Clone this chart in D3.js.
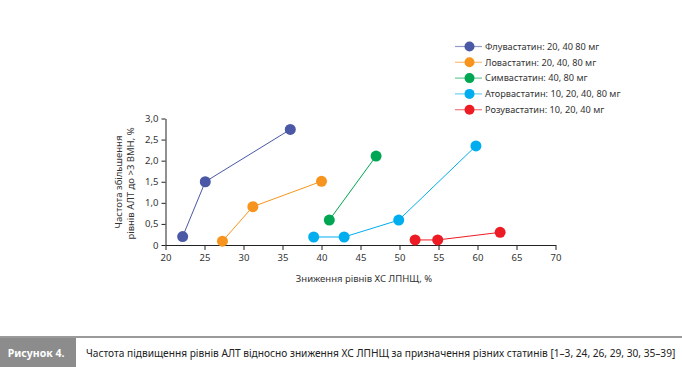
<!DOCTYPE html>
<html><head><meta charset="utf-8">
<script src="https://cdn.jsdelivr.net/npm/d3@7"></script>
<style>
body{margin:0;background:#fff;}
svg{display:block;font-family:"Noto Sans","Open Sans",sans-serif;}
</style></head><body>
<svg id="c" width="682" height="367"></svg>
<script>
const seriesNames = ["Флувастатин: 20, 40 80 мг","Ловастатин: 20, 40, 80 мг","Симвастатин: 40, 80 мг","Аторвастатин: 10, 20, 40, 80 мг","Розувастатин: 10, 20, 40 мг"];
const seriesColors = ["#4a58a6","#f7941d","#00a651","#00aeef","#ed1c24"];
const fluvaX = [22.2, 25.1, 36.0], fluvaY = [0.2, 1.5, 2.74];
const lovaX = [27.3, 31.2, 40.0], lovaY = [0.09, 0.91, 1.51];
const simvaX = [41.0, 47.0], simvaY = [0.59, 2.11];
const atorvaX = [39.0, 42.9, 49.9, 59.8], atorvaY = [0.19, 0.19, 0.59, 2.35];
const rosuvaX = [52.0, 54.9, 62.9], rosuvaY = [0.12, 0.12, 0.3];
const xTicks = [20,25,30,35,40,45,50,55,60,65,70];
const yTicks = [0,0.5,1.0,1.5,2.0,2.5,3.0];
const xTitle = "Зниження рівнів ХС ЛПНЩ, %";
const yTitle = ["Частота збільшення","рівнів АЛТ до >3 ВМН, %"];
const figLabel = "Рисунок 4.";
const caption = "Частота підвищення рівнів АЛТ відносно зниження ХС ЛПНЩ за призначення різних статинів [1–3, 24, 26, 29, 30, 35–39]";

const allX = [fluvaX, lovaX, simvaX, atorvaX, rosuvaX];
const allY = [fluvaY, lovaY, simvaY, atorvaY, rosuvaY];
const series = seriesNames.map((n,i)=>({name:n,color:seriesColors[i],pts:allX[i].map((x,j)=>[x,allY[i][j]])}));

const svg = d3.select("#c");
const x = d3.scaleLinear().domain([20,70]).range([165.5,555.5]);
const y = d3.scaleLinear().domain([0,3]).range([245,118.5]);
const fmt = d => d===0 ? "0" : d3.format(".1f")(d).replace(".",",");

const gx = svg.append("g").attr("transform","translate(0,245)")
  .call(d3.axisBottom(x).tickValues(xTicks).tickSize(5).tickSizeOuter(0).tickPadding(4));
const gy = svg.append("g").attr("transform","translate(165.5,0)")
  .call(d3.axisLeft(y).tickValues(yTicks).tickSize(4).tickSizeOuter(0).tickPadding(3).tickFormat(fmt));
[gx,gy].forEach(g=>{
  g.selectAll("path,line").attr("stroke","#222").attr("stroke-width",1);
  g.selectAll("text").attr("fill","#333").style("font-size","9.5px").style("font-family","'Noto Sans',sans-serif");
});

svg.append("text").attr("x",364).attr("y",282).attr("text-anchor","middle")
  .style("font-size","9.5px").attr("fill","#333").text(xTitle);
yTitle.forEach((t,i)=>{
  svg.append("text").attr("transform",`translate(${122+i*12.3},${182+i*1.5}) rotate(-90)`)
    .attr("text-anchor","middle").style("font-size","9.5px").attr("fill","#333").text(t);
});

const line = d3.line().x(d=>x(d[0])).y(d=>y(d[1]));
series.forEach(s=>{
  svg.append("path").attr("d",line(s.pts)).attr("fill","none").attr("stroke",s.color).attr("stroke-width",1);
  svg.selectAll(null).data(s.pts).enter().append("circle")
    .attr("cx",d=>x(d[0])).attr("cy",d=>y(d[1])).attr("r",5.5).attr("fill",s.color);
});

const lg = svg.append("g");
series.forEach((s,i)=>{
  const yy = 46.5 + i*15.8;
  lg.append("line").attr("x1",455).attr("x2",482).attr("y1",yy).attr("y2",yy)
    .attr("stroke",s.color).attr("stroke-opacity",0.6).attr("stroke-width",1.2);
  lg.append("circle").attr("cx",469.5).attr("cy",yy).attr("r",5).attr("fill",s.color);
  lg.append("text").attr("x",485).attr("y",yy+3.3).style("font-size","9.2px").attr("fill","#333").text(s.name);
});

// footer
svg.append("line").attr("x1",0).attr("x2",682).attr("y1",337).attr("y2",337).attr("stroke","#9a9a9a").attr("stroke-width",2);
svg.append("rect").attr("x",0).attr("y",338).attr("width",76).attr("height",29).attr("fill","#8c8c8c");
svg.append("text").attr("x",36).attr("y",357).attr("text-anchor","middle").attr("fill","#fff")
  .style("font-size","10.5px").style("font-weight","bold").text(figLabel);
const cap = svg.append("text").attr("x",0).attr("y",0).attr("fill","#222")
  .style("font-size","11px").text(caption);
const natural = cap.node().getComputedTextLength();
const k = Math.min(1, 590 / natural);
cap.attr("transform",`translate(86,357) scale(${k},1)`);
</script>
</body></html>
